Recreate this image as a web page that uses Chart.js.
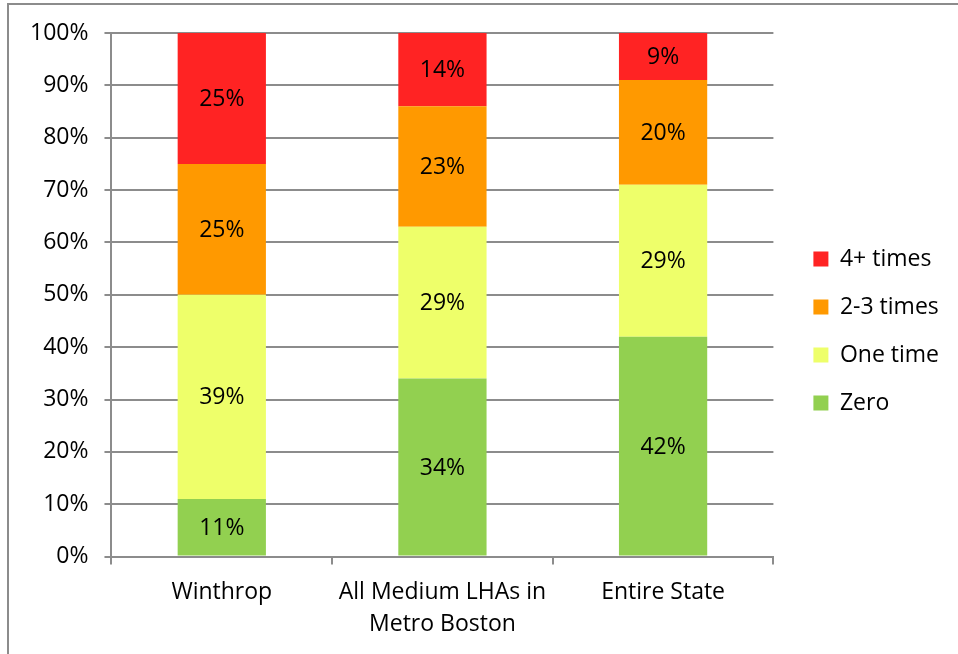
<!DOCTYPE html>
<html>
<head>
<meta charset="utf-8">
<script src="https://cdn.jsdelivr.net/npm/chart.js@4.4.0/dist/chart.umd.min.js"></script>
<style>
  html, body { margin: 0; padding: 0; background: #fff; overflow: hidden; }
  #frame { position: absolute; left: 7px; top: 3px; width: 1000px; height: 700px; border: 2px solid #8c8c8c; }
  #wrap { position: absolute; left: 0; top: 0; width: 958px; height: 654px; }
</style>
</head>
<body>
<div id="frame"></div>
<div id="wrap"><canvas id="chart"></canvas></div>
<script>
const categories = ['Winthrop', ['All Medium LHAs in', 'Metro Boston'], 'Entire State'];
const zero = [11, 34, 42];
const oneTime = [39, 29, 29];
const twoThree = [25, 23, 20];
const fourPlus = [25, 14, 9];
const yTicks = [0, 10, 20, 30, 40, 50, 60, 70, 80, 90, 100];

const FONT = "'Open Sans', sans-serif";
const SIZE = 23;

// writes the value in the middle of each stacked piece
const segmentLabels = {
  id: 'segmentLabels',
  afterDatasetsDraw(chart) {
    const ctx = chart.ctx;
    ctx.save();
    ctx.font = SIZE + 'px ' + FONT;
    ctx.fillStyle = '#000';
    ctx.textAlign = 'center';
    ctx.textBaseline = 'middle';
    chart.data.datasets.forEach((ds, i) => {
      chart.getDatasetMeta(i).data.forEach((bar, j) => {
        const y = (bar.y + bar.base) / 2;
        ctx.fillText(ds.data[j] + '%', bar.x, y + 1);
      });
    });
    ctx.restore();
  }
};

// nudge the legend: a bit further from the plot and a bit higher, same row spacing
const legendShift = {
  id: 'legendShift',
  afterLayout(chart) {
    const lg = chart.legend;
    lg.left += 15;
    lg.right += 15;
    lg.top -= 12;
    lg.bottom -= 12;
  }
};

new Chart(document.getElementById('chart'), {
  type: 'bar',
  data: {
    labels: categories,
    datasets: [
      { label: 'Zero', data: zero, backgroundColor: '#92D050' },
      { label: 'One time', data: oneTime, backgroundColor: '#EEFF6A' },
      { label: '2-3 times', data: twoThree, backgroundColor: '#FF9900' },
      { label: '4+ times', data: fourPlus, backgroundColor: '#FF2323' }
    ]
  },
  options: {
    responsive: true,
    maintainAspectRatio: false,
    animation: false,
    layout: { padding: { top: 33, left: 14, right: 24, bottom: 1 } },
    datasets: { bar: { categoryPercentage: 1, barPercentage: 0.4 } },
    scales: {
      x: {
        stacked: true,
        border: { color: '#8c8c8c', width: 2 },
        grid: { drawOnChartArea: false, drawTicks: true, tickLength: 8, color: '#8c8c8c', lineWidth: 2 },
        ticks: { color: '#000', font: { family: FONT, size: SIZE, lineHeight: 1.4 }, padding: 12, maxRotation: 0 }
      },
      y: {
        stacked: true,
        min: 0,
        max: 100,
        afterBuildTicks(scale) { scale.ticks = yTicks.map(v => ({ value: v })); },
        border: { color: '#8c8c8c', width: 2 },
        grid: { color: '#8c8c8c', lineWidth: 2, tickLength: 7 },
        ticks: { color: '#000', font: { family: FONT, size: SIZE }, padding: 16, callback: v => v + '%' }
      }
    },
    plugins: {
      legend: {
        position: 'right',
        reverse: true,
        labels: {
          boxWidth: 15,
          boxHeight: 15,
          padding: 25,
          color: '#000',
          font: { family: FONT, size: SIZE }
        }
      },
      tooltip: { enabled: false }
    }
  },
  plugins: [segmentLabels, legendShift]
});
</script>
</body>
</html>
